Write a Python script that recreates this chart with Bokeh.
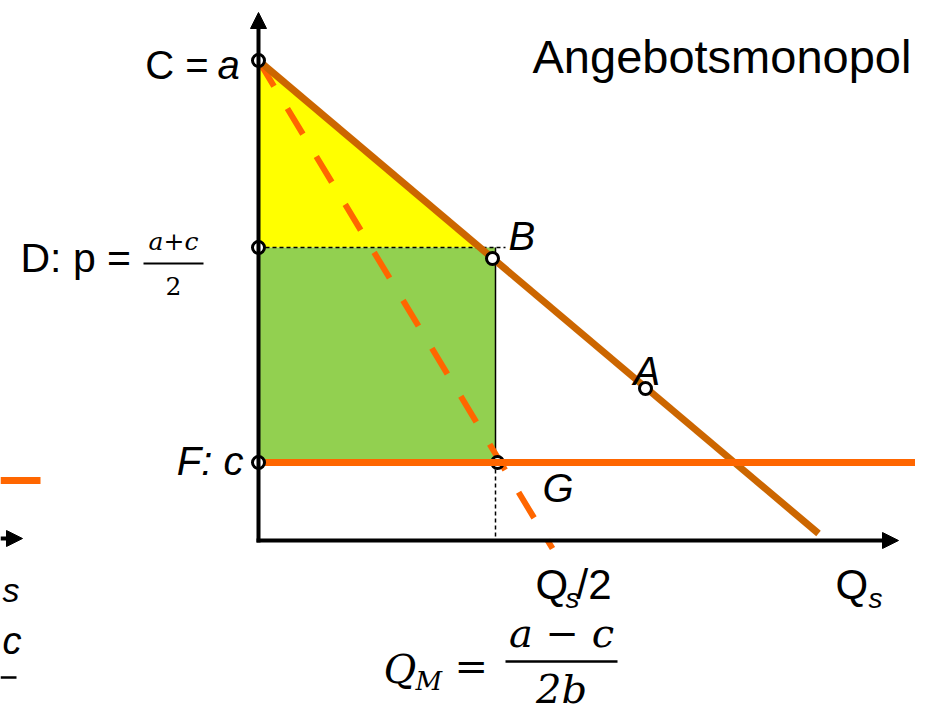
from bokeh.plotting import figure
from bokeh.models import Range1d, Arrow, NormalHead
from bokeh.core.properties import value
from bokeh.embed import file_html
from bokeh.resources import INLINE

# ---------------- data (quantity Q on x, price p on y) ----------------
price_a = 48.0          # C = a  (price intercept of demand)
price_monopoly = 29.3   # D: p = (a+c)/2
price_c = 7.8           # F: c   (marginal cost)
demand_q = [0.0, 56.0]
demand_p = [48.0, 0.7]
mr_q = [0.0, 29.4]
mr_p = [48.0, -0.8]
mc_q = [0.0, 66.2]
mc_p = [7.8, 7.8]
q_monopoly = 23.7
q_dash_end = 24.7
point_names = ["C", "D", "B", "A", "F", "G"]
point_q = [0.0, 0.0, 23.4, 38.7, 0.0, 23.9]
point_p = [48.0, 29.3, 28.2, 15.2, 7.8, 7.8]
axis_q_max = 64.0
axis_p_max = 52.8
# fragments of the neighbouring slide at the left edge
frag_mc_q = [-25.8, -21.8]
frag_mc_p = [6.0, 6.0]
frag_axis_q = [-25.8, -23.6]
frag_axis_p = 0.2

PX = 10.0  # screen pixels per data unit
BROWN = "#CC6600"
ORANGE = "#FF6600"
YELLOW = "#FFFF00"
GREEN = "#92D050"
SANS = "Liberation Sans"
SERIF = "DejaVu Serif"

p = figure(width=915, height=712, x_range=Range1d(-25.8, 65.7), y_range=Range1d(-17.2, 54.0),
           output_backend="svg", toolbar_location=None, x_axis_type=None, y_axis_type=None,
           min_border=0, outline_line_color=None, background_fill_color="white")
p.grid.visible = False

pt = dict(zip(point_names, zip(point_q, point_p)))

# demand slope and where it meets the monopoly price
slope = (demand_p[1] - demand_p[0]) / (demand_q[1] - demand_q[0])
q_tip = demand_q[0] + (price_monopoly - demand_p[0]) / slope

# consumer surplus (yellow) and producer surplus (green)
p.patch([0.0, 0.0, q_tip], [price_a, price_monopoly, price_monopoly], fill_color=YELLOW, line_color=None)
p.quad(left=[0.0], right=[q_monopoly], bottom=[price_c], top=[price_monopoly], fill_color=GREEN, line_color=None)

# thin guide lines
p.line([0.0, q_dash_end], [price_monopoly, price_monopoly], line_color="black", line_width=1.5, line_dash="4 3")
p.line([q_monopoly, q_monopoly], [price_monopoly, price_c], line_color="black", line_width=1.5)
p.line([q_monopoly, q_monopoly], [price_c, 0.0], line_color="black", line_width=1.5, line_dash="4 3")

# marginal revenue (dashed) and demand
p.line(mr_q, mr_p, line_color=ORANGE, line_width=6, line_dash="30 26")
p.line(demand_q, demand_p, line_color=BROWN, line_width=7)

# axes with arrow heads
for xs, ys, xe, ye in [(0.0, -0.2, 0.0, axis_p_max), (-0.2, 0.0, axis_q_max, 0.0)]:
    p.add_layout(Arrow(x_start=xs, y_start=ys, x_end=xe, y_end=ye, line_width=4, line_color="black",
                       end=NormalHead(size=16, fill_color="black", line_color="black", line_width=1)))

# fragments at the left edge
p.line(frag_mc_q, frag_mc_p, line_color=ORANGE, line_width=7)
p.add_layout(Arrow(x_start=frag_axis_q[0], y_start=frag_axis_p, x_end=frag_axis_q[1], y_end=frag_axis_p,
                   line_width=4, line_color="black",
                   end=NormalHead(size=16, fill_color="black", line_color="black", line_width=1)))

circ = dict(size=12, line_width=3, line_color="black", fill_color="white")
# G circle lies under the cost line
p.scatter([pt["G"][0]], [pt["G"][1]], **circ)
p.line(mc_q, mc_p, line_color=ORANGE, line_width=7)
others = [n for n in point_names if n != "G"]
p.scatter([pt[n][0] for n in others], [pt[n][1] for n in others], **circ)

SHIFT = 0.37  # baseline correction (em) of the renderer


def txt(anchor, s, dx, dy, size, align="left", style="normal", font=SANS):
    p.text(x=[anchor[0]], y=[anchor[1]], text=[s], x_offset=dx, y_offset=dy - SHIFT * size,
           text_font=value(font), text_font_size=f"{size}px", text_font_style=style,
           text_align=align, text_baseline="alphabetic", text_color="black")


def bar(anchor, dx0, dx1, dy, width=2.0):
    y = anchor[1] - dy / PX
    p.line([anchor[0] + dx0 / PX, anchor[0] + dx1 / PX], [y, y], line_color="black", line_width=width)


origin = (0.0, 0.0)

# C = a
txt(pt["C"], "C =", -50, 19, 40, align="right")
txt(pt["C"], "a", -41, 19, 40, style="italic")
# title
txt(pt["C"], "Angebotsmonopol", 274, 13, 47)
# D: p = (a+c)/2
txt(pt["D"], "D: p =", -238, 26, 41)
txt(pt["D"], "a+c", -85, 3, 25, align="center", style="italic", font=SERIF)
bar(pt["D"], -115, -55, 16)
txt(pt["D"], "2", -85, 48, 25, align="center", font=SERIF)
# F: c
txt(pt["F"], "F: c", -15, 13, 40, align="right", style="italic")
# B, A, G
txt(pt["B"], "B", 16, -8, 40, style="italic")
txt(pt["A"], "A", -12, -3, 40, style="italic")
txt(pt["G"], "G", 45, 40, 40, style="italic")
# Qs/2 and Qs
txt(origin, "Q", 277, 60, 42)
txt(origin, "s", 307, 68, 28, style="italic")
txt(origin, "/2", 318, 60, 42)
txt(origin, "Q", 577, 60, 42)
txt(origin, "s", 610, 68, 28, style="italic")
# Q_M = (a - c) / 2b
txt(origin, "Q", 125, 143, 40, style="italic", font=SERIF)
txt(origin, "M", 157, 150, 26, style="italic", font=SERIF)
txt(origin, "=", 196, 140, 40, font=SERIF)
txt(origin, "a \u2212 c", 303, 107, 40, align="center", style="italic", font=SERIF)
bar(origin, 247, 359, 121, width=2.5)
txt(origin, "2b", 303, 163, 40, align="center", style="italic", font=SERIF)
# fragment texts at the left edge (kept fully visible)
txt(origin, "s", -256, 62, 34, style="italic")
txt(origin, "c", -256, 115, 38, style="italic")
bar(origin, -258, -242, 137, width=2.5)

open("out.html", "w").write(file_html(p, INLINE))
